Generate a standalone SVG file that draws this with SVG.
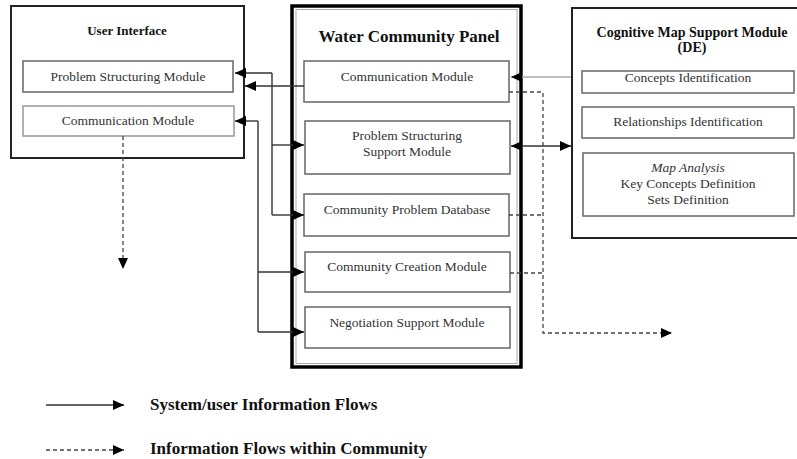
<svg xmlns="http://www.w3.org/2000/svg" width="797" height="459" viewBox="0 0 797 459">
<style>
.outer{fill:#fff;stroke:#222;stroke-width:2}
.mod{fill:#fff;stroke:#666;stroke-width:1.5}
.modl{fill:#fff;stroke:#999;stroke-width:1.5}
.t{font-family:"Liberation Serif","Times New Roman",serif;font-size:13.5px;fill:#333;text-anchor:middle}
.h{font-family:"Liberation Serif","Times New Roman",serif;font-weight:bold;fill:#111;text-anchor:middle}
.lg{font-family:"Liberation Serif","Times New Roman",serif;font-weight:bold;font-size:17px;fill:#111}
.s{fill:none;stroke:#333;stroke-width:1.4}
.g{fill:none;stroke:#aaa;stroke-width:1.6}
.d{fill:none;stroke:#444;stroke-width:1.3;stroke-dasharray:4 3}
</style>
<defs>
<marker id="ah" markerUnits="userSpaceOnUse" markerWidth="11" markerHeight="10" refX="11" refY="5" orient="auto">
<path d="M0,0 L11,5 L0,10 Z" fill="#000"/>
</marker>
<marker id="as" markerUnits="userSpaceOnUse" markerWidth="11" markerHeight="10" refX="0" refY="5" orient="auto">
<path d="M11,0 L0,5 L11,10 Z" fill="#000"/>
</marker>
</defs>
<rect width="797" height="459" fill="#fff"/>

<g id="user-interface">
<rect class="outer" x="11" y="6" width="233" height="152"/>
<text class="h" x="127" y="35" font-size="13">User Interface</text>
</g>
<g id="ui-problem-structuring">
<rect class="mod" x="23" y="61" width="210" height="31"/>
<text class="t" x="128" y="81">Problem Structuring Module</text>
</g>
<g id="ui-communication">
<rect class="modl" x="23" y="106" width="211" height="30"/>
<text class="t" x="128" y="125">Communication Module</text>
</g>

<g id="water-community-panel">
<rect x="292" y="6" width="229" height="361" fill="#fff" stroke="#000" stroke-width="3.5"/>
<rect x="296" y="9.5" width="221" height="354" fill="none" stroke="#aaa" stroke-width="1"/>
<text class="h" x="409" y="42" font-size="17">Water Community Panel</text>
</g>
<g id="wcp-communication">
<rect class="mod" x="304" y="61" width="205" height="41"/>
<text class="t" x="407" y="81">Communication Module</text>
</g>
<g id="wcp-problem-structuring-support">
<rect class="mod" x="305" y="121" width="205" height="53"/>
<text class="t" x="407" y="140">Problem Structuring</text>
<text class="t" x="407" y="156">Support Module</text>
</g>
<g id="wcp-community-problem-database">
<rect class="mod" x="304" y="194" width="205" height="42"/>
<text class="t" x="407" y="214">Community Problem Database</text>
</g>
<g id="wcp-community-creation">
<rect class="mod" x="305" y="252" width="205" height="40"/>
<text class="t" x="407" y="271">Community Creation Module</text>
</g>
<g id="wcp-negotiation-support">
<rect class="mod" x="305" y="307" width="205" height="41"/>
<text class="t" x="407" y="327">Negotiation Support Module</text>
</g>

<g id="cognitive-map-support">
<rect class="outer" x="572" y="8" width="240" height="230"/>
<text class="h" x="692" y="37" font-size="14">Cognitive Map Support Module</text>
<text class="h" x="692" y="52" font-size="14">(DE)</text>
</g>
<g id="cm-concepts">
<rect class="mod" x="582" y="71" width="212" height="22"/>
<text class="t" x="688" y="82">Concepts Identification</text>
</g>
<g id="cm-relationships">
<rect class="mod" x="582" y="107" width="212" height="31"/>
<text class="t" x="688" y="126">Relationships Identification</text>
</g>
<g id="cm-map-analysis">
<rect class="mod" x="583" y="153" width="211" height="63"/>
<text class="t" x="688" y="172" font-style="italic">Map Analysis</text>
<text class="t" x="688" y="188">Key Concepts Definition</text>
<text class="t" x="688" y="204">Sets Definition</text>
</g>

<g id="connectors">
<path class="s" d="M272,73 L272,215"/>
<path class="s" d="M272,73 L235,73" marker-end="url(#ah)"/>
<path class="s" d="M272,145 L304,145" marker-end="url(#ah)"/>
<path class="s" d="M272,215 L304,215" marker-end="url(#ah)"/>
<path class="s" d="M304,86 L245,86" marker-end="url(#ah)"/>
<path class="s" d="M258,121 L258,332"/>
<path class="s" d="M258,121 L235,121" marker-end="url(#ah)"/>
<path class="s" d="M258,272 L304,272" marker-end="url(#ah)"/>
<path class="s" d="M258,332 L304,332" marker-end="url(#ah)"/>
<path class="g" d="M571,77 L511,77" marker-end="url(#ah)"/>
<path class="s" d="M511,146 L571,146" marker-start="url(#as)" marker-end="url(#ah)"/>
<path class="d" d="M509,92 L543,92 L543,333 L672,333" marker-end="url(#ah)"/>
<path class="d" d="M509,215 L543,215"/>
<path class="d" d="M510,273 L543,273"/>
<path class="d" d="M123,136 L123,269" marker-end="url(#ah)"/>
</g>

<g id="legend">
<path class="s" d="M46,405 L124,405" marker-end="url(#ah)"/>
<text class="lg" x="150" y="410">System/user Information Flows</text>
<path class="d" d="M46,450 L124,450" marker-end="url(#ah)"/>
<text class="lg" x="150" y="454">Information Flows within Community</text>
</g>
</svg>
